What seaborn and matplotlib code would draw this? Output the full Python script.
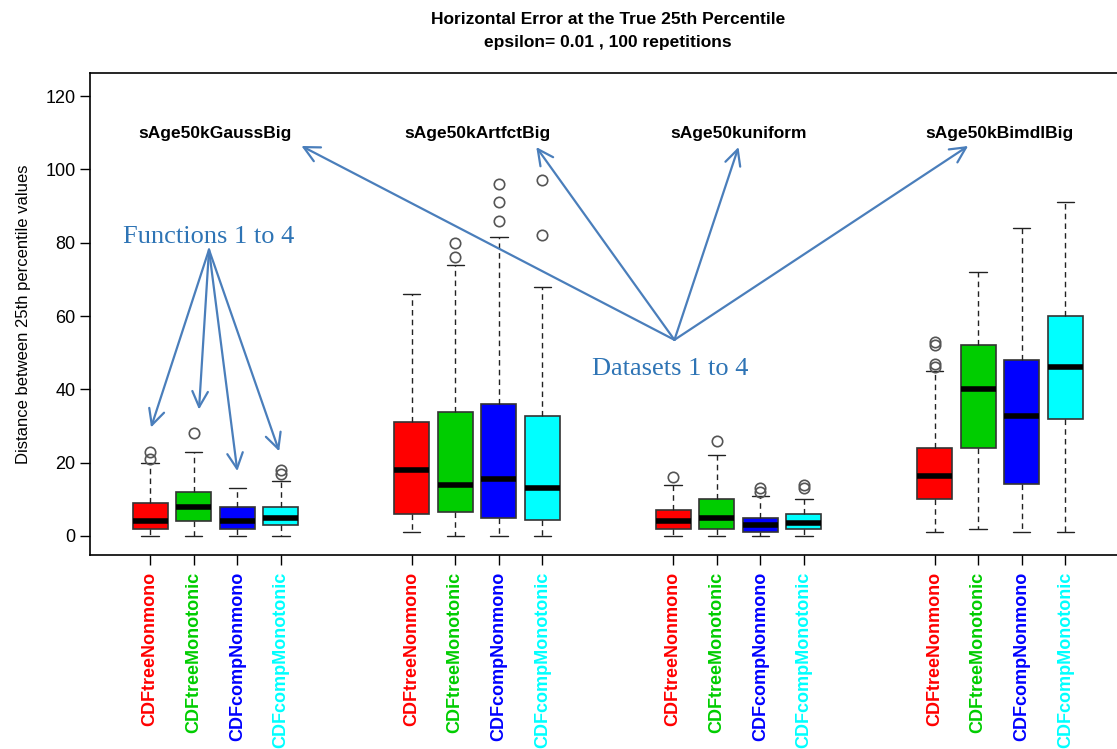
import matplotlib
matplotlib.use("Agg")
import matplotlib.pyplot as plt
import seaborn as sns

# Datasets (groups) and functions (boxes within a group)
datasets = ["sAge50kGaussBig", "sAge50kArtfctBig", "sAge50kuniform", "sAge50kBimdlBig"]
functions = ["CDFtreeNonmono", "CDFtreeMonotonic", "CDFcompNonmono", "CDFcompMonotonic"]
func_colors = ["#FF0000", "#00CD00", "#0000FF", "#00FFFF"]

# Box summaries, dataset by dataset, function order as above
whis_lo = [0, 0, 0, 0,   1, 0, 0, 0,   0, 0, 0, 0,   1, 2, 1, 1]
q1 =      [2, 4, 2, 3,   6, 6.5, 5, 4.3,   2, 2, 1, 2,   10, 24, 14.3, 32]
med =     [4, 8, 4, 5,   18, 14, 15.6, 13,   4, 5, 3, 3.4,   16.3, 40, 32.7, 46]
q3 =      [9, 12, 7.8, 8,   31, 33.8, 36, 32.6,   7, 10, 5, 6,   24, 52, 48, 60]
whis_hi = [20, 23, 13, 15,   66, 74, 81.5, 68,   14, 22, 11, 10,   45, 72, 84, 91]
fliers = [[21, 23], [28], [], [17, 18],
          [], [76, 80], [86, 91, 96], [82, 97],
          [16], [26], [12, 13], [13, 14],
          [46, 47, 52, 53], [], [], []]

sns.set_style("white")
plt.rcParams["font.family"] = ["Liberation Sans", "DejaVu Sans"]
plt.rcParams["text.color"] = "black"
plt.rcParams["axes.labelcolor"] = "black"
plt.rcParams["xtick.color"] = "black"
plt.rcParams["ytick.color"] = "black"

fig = plt.figure(figsize=(11.17, 7.49), dpi=100)
ax = fig.add_axes([0.0806, 0.259, 0.927, 0.6435])

stats = []
positions = []
labels = []
colors = []
for g in range(len(datasets)):
    for f in range(len(functions)):
        i = g * 4 + f
        stats.append(dict(whislo=whis_lo[i], q1=q1[i], med=med[i], q3=q3[i],
                          whishi=whis_hi[i], fliers=fliers[i]))
        positions.append(g * 6 + f + 1)
        labels.append(functions[f])
        colors.append(func_colors[f])

bp = ax.bxp(stats, positions=positions, widths=0.8, capwidths=0.4,
            patch_artist=True, showfliers=True,
            boxprops=dict(edgecolor="#333333", linewidth=1.2),
            medianprops=dict(color="black", linewidth=4, solid_capstyle="butt"),
            whiskerprops=dict(color="#222222", linewidth=1, linestyle=(0, (4, 3))),
            capprops=dict(color="#222222", linewidth=1),
            flierprops=dict(marker="o", markerfacecolor="none",
                            markeredgecolor="#555555", markersize=7.5, markeredgewidth=1.2))
for patch, c in zip(bp["boxes"], colors):
    patch.set_facecolor(c)

ax.set_xlim(-0.38, 23.38)
ax.set_ylim(-5.2, 126.3)
ax.set_yticks([0, 20, 40, 60, 80, 100, 120])
ax.tick_params(axis="y", labelsize=13, length=7, width=1, left=True)
ax.set_xticks(positions)
ax.set_xticklabels(labels, rotation=90, fontsize=13, fontweight="bold")
ax.tick_params(axis="x", length=7, width=1, bottom=True, pad=5)
for lab, c in zip(ax.get_xticklabels(), colors):
    lab.set_color(c)
for s in ax.spines.values():
    s.set_color("black")
    s.set_linewidth(1.2)
ax.set_ylabel("Distance between 25th percentile values", fontsize=12, labelpad=10)

# Dataset names above each group
for g, name in enumerate(datasets):
    ax.text(g * 6 + 2.5, 109.7, name, ha="center", va="center",
            fontsize=12.5, fontweight="bold")

arrow_col = "#4A7EBB"
text_col = "#2E74B5"
aprops = dict(arrowstyle="->", color=arrow_col, lw=1.6, mutation_scale=28,
              shrinkA=0, shrinkB=0)

ax.text(2.35, 81.5, "Functions 1 to 4", ha="center", va="center",
        fontsize=19, color=text_col, family=["Liberation Serif", "DejaVu Serif"])
for tip in [(1.02, 29.6), (2.12, 34.5), (3.0, 17.7), (3.96, 23.1)]:
    ax.annotate("", xy=tip, xytext=(2.35, 78.1), arrowprops=aprops)

ax.text(12.93, 45.5, "Datasets 1 to 4", ha="center", va="center",
        fontsize=19, color=text_col, family=["Liberation Serif", "DejaVu Serif"])
for tip in [(4.47, 106.4), (9.86, 106.1), (14.5, 106.1), (19.77, 106.4)]:
    ax.annotate("", xy=tip, xytext=(13.03, 53.5), arrowprops=aprops)

fig.text(0.544, 1 - 31 / 749,
         "Horizontal Error at the True 25th Percentile\nepsilon= 0.01 , 100 repetitions",
         ha="center", va="center", fontsize=12.5, fontweight="bold", linespacing=1.75)

fig.savefig("out.png", dpi=100)
